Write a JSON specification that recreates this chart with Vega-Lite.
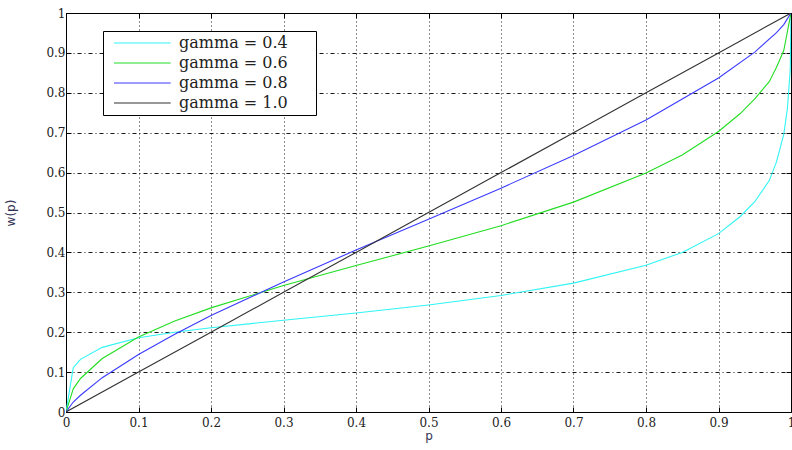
{
  "$schema": "https://vega.github.io/schema/vega-lite/v6.json",
  "autosize": "none",
  "padding": {"left": 66, "top": 13, "right": 1, "bottom": 38},
  "width": 725,
  "height": 399,
  "config": {
    "view": {"stroke": "#000000", "strokeWidth": 1},
    "axis": {"labelFont": "DejaVu Serif", "labelFontSize": 12, "labelColor": "#222222", "titleFont": "DejaVu Sans", "titleFontWeight": "normal", "titleFontSize": 12, "titleColor": "#333355"}
  },
  "data": {"values": [
    {"p": 0, "w": 0, "g": "gamma = 0.4"},
    {"p": 0.01, "w": 0.111, "g": "gamma = 0.4"},
    {"p": 0.02, "w": 0.132, "g": "gamma = 0.4"},
    {"p": 0.05, "w": 0.162, "g": "gamma = 0.4"},
    {"p": 0.1, "w": 0.186, "g": "gamma = 0.4"},
    {"p": 0.15, "w": 0.2, "g": "gamma = 0.4"},
    {"p": 0.2, "w": 0.211, "g": "gamma = 0.4"},
    {"p": 0.3, "w": 0.23, "g": "gamma = 0.4"},
    {"p": 0.4, "w": 0.248, "g": "gamma = 0.4"},
    {"p": 0.5, "w": 0.268, "g": "gamma = 0.4"},
    {"p": 0.6, "w": 0.292, "g": "gamma = 0.4"},
    {"p": 0.7, "w": 0.323, "g": "gamma = 0.4"},
    {"p": 0.8, "w": 0.368, "g": "gamma = 0.4"},
    {"p": 0.85, "w": 0.4, "g": "gamma = 0.4"},
    {"p": 0.9, "w": 0.447, "g": "gamma = 0.4"},
    {"p": 0.93, "w": 0.49, "g": "gamma = 0.4"},
    {"p": 0.95, "w": 0.527, "g": "gamma = 0.4"},
    {"p": 0.97, "w": 0.58, "g": "gamma = 0.4"},
    {"p": 0.98, "w": 0.627, "g": "gamma = 0.4"},
    {"p": 0.99, "w": 0.696, "g": "gamma = 0.4"},
    {"p": 0.995, "w": 0.76, "g": "gamma = 0.4"},
    {"p": 0.999, "w": 0.859, "g": "gamma = 0.4"},
    {"p": 1, "w": 1, "g": "gamma = 0.4"},
    {"p": 0, "w": 0, "g": "gamma = 0.6"},
    {"p": 0.01, "w": 0.058, "g": "gamma = 0.6"},
    {"p": 0.02, "w": 0.084, "g": "gamma = 0.6"},
    {"p": 0.05, "w": 0.134, "g": "gamma = 0.6"},
    {"p": 0.1, "w": 0.188, "g": "gamma = 0.6"},
    {"p": 0.15, "w": 0.228, "g": "gamma = 0.6"},
    {"p": 0.2, "w": 0.261, "g": "gamma = 0.6"},
    {"p": 0.3, "w": 0.317, "g": "gamma = 0.6"},
    {"p": 0.4, "w": 0.367, "g": "gamma = 0.6"},
    {"p": 0.5, "w": 0.416, "g": "gamma = 0.6"},
    {"p": 0.6, "w": 0.467, "g": "gamma = 0.6"},
    {"p": 0.7, "w": 0.526, "g": "gamma = 0.6"},
    {"p": 0.8, "w": 0.599, "g": "gamma = 0.6"},
    {"p": 0.85, "w": 0.644, "g": "gamma = 0.6"},
    {"p": 0.9, "w": 0.703, "g": "gamma = 0.6"},
    {"p": 0.93, "w": 0.748, "g": "gamma = 0.6"},
    {"p": 0.95, "w": 0.785, "g": "gamma = 0.6"},
    {"p": 0.97, "w": 0.828, "g": "gamma = 0.6"},
    {"p": 0.98, "w": 0.864, "g": "gamma = 0.6"},
    {"p": 0.99, "w": 0.906, "g": "gamma = 0.6"},
    {"p": 1, "w": 1, "g": "gamma = 0.6"},
    {"p": 0, "w": 0, "g": "gamma = 0.8"},
    {"p": 0.01, "w": 0.025, "g": "gamma = 0.8"},
    {"p": 0.02, "w": 0.042, "g": "gamma = 0.8"},
    {"p": 0.05, "w": 0.086, "g": "gamma = 0.8"},
    {"p": 0.1, "w": 0.144, "g": "gamma = 0.8"},
    {"p": 0.15, "w": 0.195, "g": "gamma = 0.8"},
    {"p": 0.2, "w": 0.242, "g": "gamma = 0.8"},
    {"p": 0.3, "w": 0.326, "g": "gamma = 0.8"},
    {"p": 0.4, "w": 0.406, "g": "gamma = 0.8"},
    {"p": 0.5, "w": 0.483, "g": "gamma = 0.8"},
    {"p": 0.6, "w": 0.561, "g": "gamma = 0.8"},
    {"p": 0.7, "w": 0.643, "g": "gamma = 0.8"},
    {"p": 0.8, "w": 0.732, "g": "gamma = 0.8"},
    {"p": 0.9, "w": 0.837, "g": "gamma = 0.8"},
    {"p": 0.95, "w": 0.902, "g": "gamma = 0.8"},
    {"p": 0.98, "w": 0.951, "g": "gamma = 0.8"},
    {"p": 0.99, "w": 0.971, "g": "gamma = 0.8"},
    {"p": 1, "w": 1, "g": "gamma = 0.8"},
    {"p": 0, "w": 0, "g": "gamma = 1.0"},
    {"p": 0.1, "w": 0.1, "g": "gamma = 1.0"},
    {"p": 0.2, "w": 0.2, "g": "gamma = 1.0"},
    {"p": 0.3, "w": 0.3, "g": "gamma = 1.0"},
    {"p": 0.4, "w": 0.4, "g": "gamma = 1.0"},
    {"p": 0.5, "w": 0.5, "g": "gamma = 1.0"},
    {"p": 0.6, "w": 0.6, "g": "gamma = 1.0"},
    {"p": 0.7, "w": 0.7, "g": "gamma = 1.0"},
    {"p": 0.8, "w": 0.8, "g": "gamma = 1.0"},
    {"p": 0.9, "w": 0.9, "g": "gamma = 1.0"},
    {"p": 1, "w": 1, "g": "gamma = 1.0"}
  ]},
  "layer": [
    {
      "mark": {"type": "line", "strokeWidth": 1.1, "clip": true},
      "encoding": {
        "x": {"field": "p", "type": "quantitative", "scale": {"domain": [0, 1], "nice": false},
          "axis": {"orient": "bottom", "title": "p", "values": [0,0.1,0.2,0.3,0.4,0.5,0.6,0.7,0.8,0.9,1], "format": ".1~f", "labelExpr": "datum.value == 0 ? '0' : datum.value == 1 ? '1' : datum.label", "grid": true, "gridColor": "#000000", "gridDash": [1, 3], "gridOpacity": 0.9, "domain": false, "tickSize": -5, "tickColor": "#000000", "labelPadding": 10, "titlePadding": 2, "labelFlush": false}},
        "y": {"field": "w", "type": "quantitative", "scale": {"domain": [0, 1], "nice": false},
          "axis": {"orient": "left", "title": "w(p)", "values": [0,0.1,0.2,0.3,0.4,0.5,0.6,0.7,0.8,0.9,1], "labelExpr": "datum.value == 0 ? '0' : datum.value == 1 ? '1' : format(datum.value, '.1f')", "grid": true, "gridColor": "#000000", "gridDash": [4, 3, 1, 3], "gridOpacity": 0.9, "domain": false, "tickSize": -5, "tickColor": "#000000", "labelPadding": 6, "titlePadding": 28, "labelFlush": false}},
        "color": {"field": "g", "type": "nominal",
          "scale": {"domain": ["gamma = 0.4", "gamma = 0.6", "gamma = 0.8", "gamma = 1.0"], "range": ["#30f4f4", "#22dd22", "#3a3aff", "#333333"]},
          "legend": {"title": null, "orient": "none", "legendX": 37, "legendY": 18, "symbolType": "M-1,0H7.1", "symbolSize": 196, "symbolStrokeWidth": 1.2, "symbolOffset": 6, "labelFont": "DejaVu Serif", "labelFontSize": 16, "labelColor": "#222222", "labelExpr": "datum.label + '\u2800\u2800'", "rowPadding": 4, "padding": 4, "strokeColor": "#000000", "fillColor": "#ffffff", "labelOffset": 50, "cornerRadius": 0}}
      }
    },
    {
      "mark": {"type": "line", "strokeOpacity": 0},
      "encoding": {
        "x": {"field": "p", "type": "quantitative", "scale": {"domain": [0, 1], "nice": false},
          "axis": {"orient": "top", "title": null, "values": [0,0.1,0.2,0.3,0.4,0.5,0.6,0.7,0.8,0.9,1], "labels": false, "grid": false, "domain": false, "tickSize": -5, "tickColor": "#000000"}},
        "y": {"field": "w", "type": "quantitative", "scale": {"domain": [0, 1], "nice": false},
          "axis": {"orient": "right", "title": null, "values": [0,0.1,0.2,0.3,0.4,0.5,0.6,0.7,0.8,0.9,1], "labels": false, "grid": false, "domain": false, "tickSize": -5, "tickColor": "#000000"}},
        "detail": {"field": "g", "type": "nominal"}
      }
    }
  ],
  "resolve": {"axis": {"x": "independent", "y": "independent"}}
}
